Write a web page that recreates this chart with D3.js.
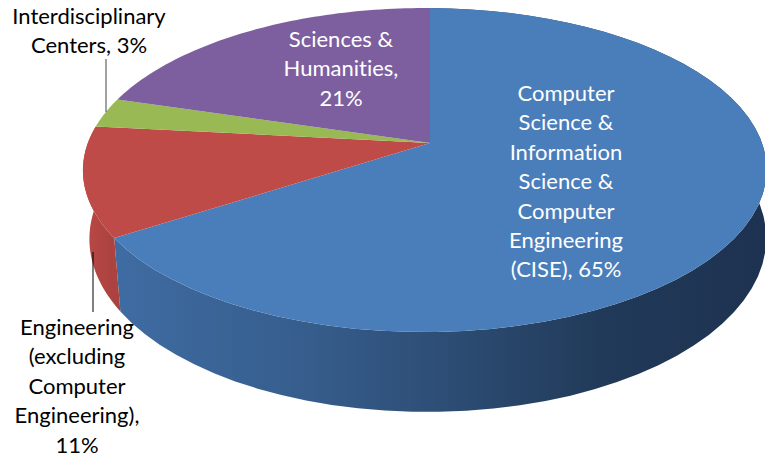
<!DOCTYPE html>
<html>
<head>
<meta charset="utf-8">
<script src="https://cdn.jsdelivr.net/npm/d3@7"></script>
<style>
    html, body { margin: 0; padding: 0; background: #fff; overflow: hidden; }
    text { font-family: Lato, "Open Sans", sans-serif; font-size: 22px; text-anchor: middle; font-variant-ligatures: none; }
</style>
</head>
<body>
<div id="chart-container"></div>
<script>
const categories = ['Computer Science & Information Science & Computer Engineering (CISE)', 'Engineering (excluding Computer Engineering)', 'Interdisciplinary Centers', 'Sciences & Humanities'];
const shares = [65, 11, 3, 21];
const topColors = ['#4a7ebb', '#be4b48', '#98b954', '#7d5fa0'];
const ciseLabel = ['Computer', 'Science &', 'Information', 'Science &', 'Computer', 'Engineering', '(CISE), 65%'];
const engLabel = ['Engineering', '(excluding', 'Computer', 'Engineering),', '11%'];
const centersLabel = ['Interdisciplinary', 'Centers, 3%'];
const sciencesLabel = ['Sciences &', 'Humanities,', '21%'];

const w = 765;
const h = 457;

// apex of the pie and the radii of the tilted disc
const cx = 430;
const cy = 143;
const rx = 337;
const ry = 157.5;
const k = 1 / 6; // perspective, near edge looks bigger
const m = 0.015; // left side a little bigger too
const warp = 0.0628; // slices stretch a bit going round the near side

const svg = d3.select('#chart-container')
    .append('svg')
    .attr('width', w)
    .attr('height', h);

const defs = svg.append('defs');

const blueWall = defs.append('linearGradient')
    .attr('id', 'blueWall')
    .attr('gradientUnits', 'userSpaceOnUse')
    .attr('x1', 113).attr('x2', 765).attr('y1', 0).attr('y2', 0);
[[0, '#3f6ca3'], [0.3, '#365d8c'], [0.55, '#2b4a70'], [0.75, '#213a59'], [1, '#1d3250']].forEach(s => {
    blueWall.append('stop').attr('offset', s[0]).attr('stop-color', s[1]);
});

const redWall = defs.append('linearGradient')
    .attr('id', 'redWall')
    .attr('gradientUnits', 'userSpaceOnUse')
    .attr('x1', 85).attr('x2', 122).attr('y1', 0).attr('y2', 0);
[[0, '#b84845'], [1, '#a8413e']].forEach(s => {
    redWall.append('stop').attr('offset', s[0]).attr('stop-color', s[1]);
});

const pie = d3.pie().sort(null).value(d => d);
const slices = pie(shares);

// angle on the disc -> screen position, top rim
const rimTop = a => {
    const t = a + warp * Math.sin(a / 2);
    const ux = Math.sin(t);
    const uy = -Math.cos(t);
    const p = 1 - k * uy + m * ux;
    return [cx + rx * ux / p, cy + ry * uy / p];
};

// same thing for the lower rim of the pie
const rimBottom = a => {
    const t = a + warp * Math.sin(a / 2);
    const ux = Math.sin(t);
    const uy = -Math.cos(t);
    const p = 1 - k * uy + m * ux;
    return [cx + 3 + rx * 0.99 * ux / p, cy + 66.7 + ry * 1.07 * uy / p];
};

const steps = (a0, a1) => d3.range(0, 61).map(i => a0 + (a1 - a0) * i / 60);
const line = d3.line();

const wallPath = (a0, a1) => line(steps(a0, a1).map(rimTop).concat(steps(a1, a0).map(rimBottom))) + 'Z';
const facePath = d => line([[cx, cy]].concat(steps(d.startAngle, d.endAngle).map(rimTop))) + 'Z';

// walls first, top faces paint over them
svg.append('path').attr('d', wallPath(slices[0].startAngle, slices[0].endAngle)).attr('fill', 'url(#blueWall)');
svg.append('path').attr('d', wallPath(slices[1].startAngle, slices[1].endAngle)).attr('fill', 'url(#redWall)');

svg.selectAll('path.face')
    .data(slices)
    .enter()
    .append('path')
    .attr('class', 'face')
    .attr('d', facePath)
    .attr('fill', (d, i) => topColors[i]);

// leader lines
svg.append('line').attr('x1', 106).attr('x2', 106).attr('y1', 59).attr('y2', 112).attr('stroke', '#444').attr('stroke-width', 1);
svg.append('line').attr('x1', 93).attr('x2', 93).attr('y1', 252).attr('y2', 312).attr('stroke', '#000').attr('stroke-width', 1);

const drawLabel = (lines, x, firstY, color) => {
    svg.append('g')
        .selectAll('text')
        .data(lines)
        .enter()
        .append('text')
        .attr('x', x)
        .attr('y', (d, i) => firstY + i * 29.4)
        .attr('fill', color)
        .text(d => d);
};

drawLabel(ciseLabel, 566, 101, '#fff');
drawLabel(sciencesLabel, 341, 47, '#fff');
drawLabel(centersLabel, 89, 24, '#000');
drawLabel(engLabel, 77, 335, '#000');
</script>
</body>
</html>
